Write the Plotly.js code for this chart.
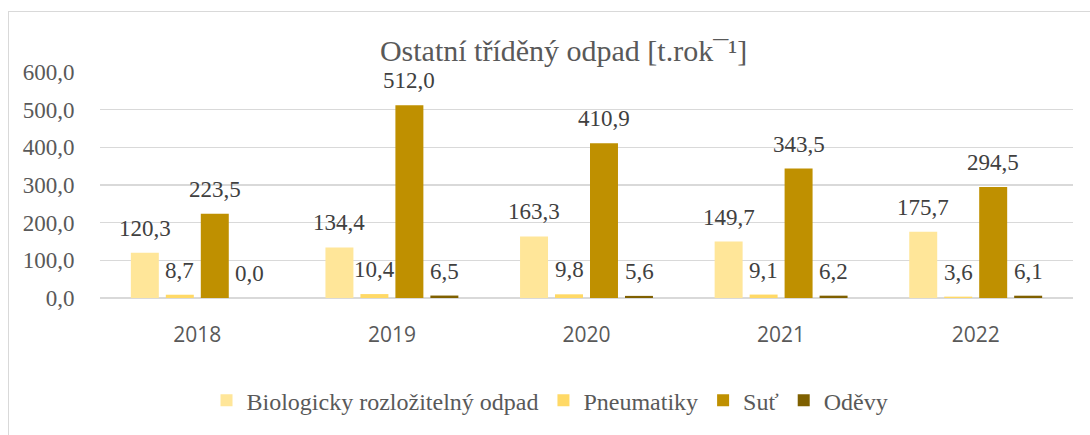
<!DOCTYPE html>
<html>
<head>
<meta charset="utf-8">
<script src="https://cdn.plot.ly/plotly-3.0.1.min.js"></script>
<style>
  html, body { margin: 0; padding: 0; background: #ffffff; }
  #wrap { position: relative; width: 1090px; height: 435px; overflow: hidden; }
  #frame { position: absolute; left: 8px; top: 11px; width: 1120px; height: 460px;
           border: 1.5px solid #d9d9d9; box-sizing: border-box; pointer-events: none; }
  #chart { position: absolute; left: 0; top: 0; width: 1090px; height: 435px; }
</style>
</head>
<body>
<div id="wrap">
  <div id="frame"></div>
  <div id="chart"></div>
</div>
<script>
// ---- data ----
const years = ['2018', '2019', '2020', '2021', '2022'];
const seriesNames = ['Biologicky rozložitelný odpad', 'Pneumatiky', 'Suť', 'Oděvy'];
const bio = [120.3, 134.4, 163.3, 149.7, 175.7];
const pneumatiky = [8.7, 10.4, 9.8, 9.1, 3.6];
const sut = [223.5, 512.0, 410.9, 343.5, 294.5];
const odevy = [0.0, 6.5, 5.6, 6.2, 6.1];
const yTicks = [0, 100, 200, 300, 400, 500, 600];
const chartTitle = 'Ostatní tříděný odpad [t.rok¯¹]';

// ---- style ----
const colors = ['#FFE699', '#FFD966', '#BF9000', '#7F6000'];
const serif = '"Liberation Serif", "Times New Roman", serif';
const allSeries = [bio, pneumatiky, sut, odevy];
const slotPx = 35; // offset between bars within a group (px)

const traces = allSeries.map((vals, i) => ({
  type: 'bar',
  name: seriesNames[i],
  x: years,
  y: vals,
  marker: { color: colors[i], line: { width: 0 } },
  hoverinfo: 'skip'
}));

const fmt = v => v.toFixed(1).replace('.', ',');
const annotations = [];
allSeries.forEach((vals, i) => {
  vals.forEach((v, j) => {
    annotations.push({
      x: j, y: v, xref: 'x', yref: 'y',
      text: fmt(v), showarrow: false,
      xanchor: 'center', yanchor: 'bottom',
      xshift: (i - 1.5) * slotPx, yshift: 10,
      font: { family: serif, size: 23, color: '#404040' }
    });
  });
});

const layout = {
  width: 1090, height: 435,
  margin: { l: 100, r: 17, t: 72, b: 134 },
  paper_bgcolor: 'rgba(0,0,0,0)',
  plot_bgcolor: 'rgba(0,0,0,0)',
  separators: ', ',
  barmode: 'group',
  bargap: 0.281,
  bargroupgap: 0.2,
  title: {
    text: chartTitle,
    font: { family: serif, size: 30, color: '#595959' },
    xref: 'container', yref: 'container',
    x: 0.517, xanchor: 'center',
    y: 1 - 50 / 435, yanchor: 'middle'
  },
  xaxis: {
    type: 'category',
    categoryarray: years,
    range: [-0.5, years.length - 0.5],
    autorange: false,
    showgrid: false, zeroline: false, showline: false,
    ticks: 'outside', ticklen: 18, tickcolor: 'rgba(0,0,0,0)',
    tickfont: { family: '"Open Sans", sans-serif', size: 21, color: '#595959' },
    fixedrange: true
  },
  yaxis: {
    range: [0, 600],
    autorange: false,
    tickvals: yTicks,
    tickformat: '.1f',
    showgrid: true, gridcolor: '#d9d9d9', gridwidth: 1.5,
    zeroline: true, zerolinecolor: '#d9d9d9', zerolinewidth: 1.5,
    showline: false,
    ticks: 'outside', ticklen: 20, tickcolor: 'rgba(0,0,0,0)',
    tickfont: { family: serif, size: 23, color: '#595959' },
    fixedrange: true
  },
  showlegend: true,
  legend: {
    orientation: 'h',
    x: 0.4625, xanchor: 'center',
    y: -0.454, yanchor: 'middle',
    font: { family: serif, size: 24, color: '#595959' },
    itemclick: false, itemdoubleclick: false
  },
  annotations: annotations
};

Plotly.newPlot('chart', traces, layout, { staticPlot: true, displayModeBar: false });
</script>
</body>
</html>
